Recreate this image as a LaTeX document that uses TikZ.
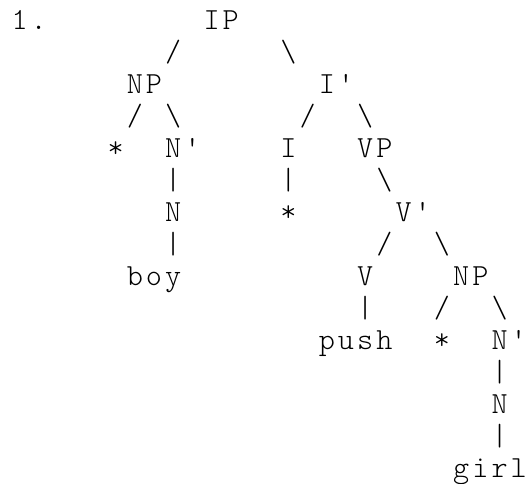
\documentclass[tikz,border=0pt]{standalone}
\usepackage{fontspec}
\newfontfamily\asciifont[LetterSpace=10.1]{lmmonolt10-regular.otf}
\tikzset{
  tk/.style={anchor=base west, inner sep=0pt, outer sep=0pt, text=black,
    font=\asciifont\fontsize{23pt}{23pt}\selectfont}
}
\newcommand{\tokn}[4]{\node[tk] (#1) at ({11.55+19.2*(#2)},{29+32*((#3)-1)}) {#4};}
\newcommand{\bsl}{\symbol{92}}
\begin{document}
\begin{tikzpicture}[x=0.75pt,y=-0.75pt]
\fill[white] (0,0) rectangle (532,483);
\useasboundingbox (0,0) rectangle (532,483);
% row 1
\tokn{num}{0}{1}{1.}
\tokn{ip}{10}{1}{IP}
% row 2
\tokn{c1}{8}{2}{/}
\tokn{c2}{14}{2}{\bsl}
% row 3
\tokn{np}{6}{3}{NP}
\tokn{ibar}{16}{3}{I'}
% row 4
\tokn{c3}{6}{4}{/}
\tokn{c4}{8}{4}{\bsl}
\tokn{c5}{15}{4}{/}
\tokn{c6}{18}{4}{\bsl}
% row 5
\tokn{specA}{5}{5}{*}
\tokn{nbarA}{8}{5}{N'}
\tokn{i}{14}{5}{I}
\tokn{vp}{18}{5}{VP}
% row 6
\tokn{c7}{8}{6}{\symbol{124}}
\tokn{c8}{14}{6}{\symbol{124}}
\tokn{c9}{19}{6}{\bsl}
% row 7
\tokn{nA}{8}{7}{N}
\tokn{istar}{14}{7}{*}
\tokn{vbar}{20}{7}{V'}
% row 8
\tokn{c10}{8}{8}{\symbol{124}}
\tokn{c11}{19}{8}{/}
\tokn{c12}{22}{8}{\bsl}
% row 9
\tokn{boy}{6}{9}{boy}
\tokn{v}{18}{9}{V}
\tokn{npB}{23}{9}{NP}
% row 10
\tokn{c13}{18}{10}{\symbol{124}}
\tokn{c14}{22}{10}{/}
\tokn{c15}{25}{10}{\bsl}
% row 11
\tokn{push}{16}{11}{push}
\tokn{specB}{22}{11}{*}
\tokn{nbarB}{25}{11}{N'}
% row 12
\tokn{c16}{25}{12}{\symbol{124}}
% row 13
\tokn{nB}{25}{13}{N}
% row 14
\tokn{c17}{25}{14}{\symbol{124}}
% row 15
\tokn{girl}{23}{15}{girl}
\end{tikzpicture}
\end{document}
